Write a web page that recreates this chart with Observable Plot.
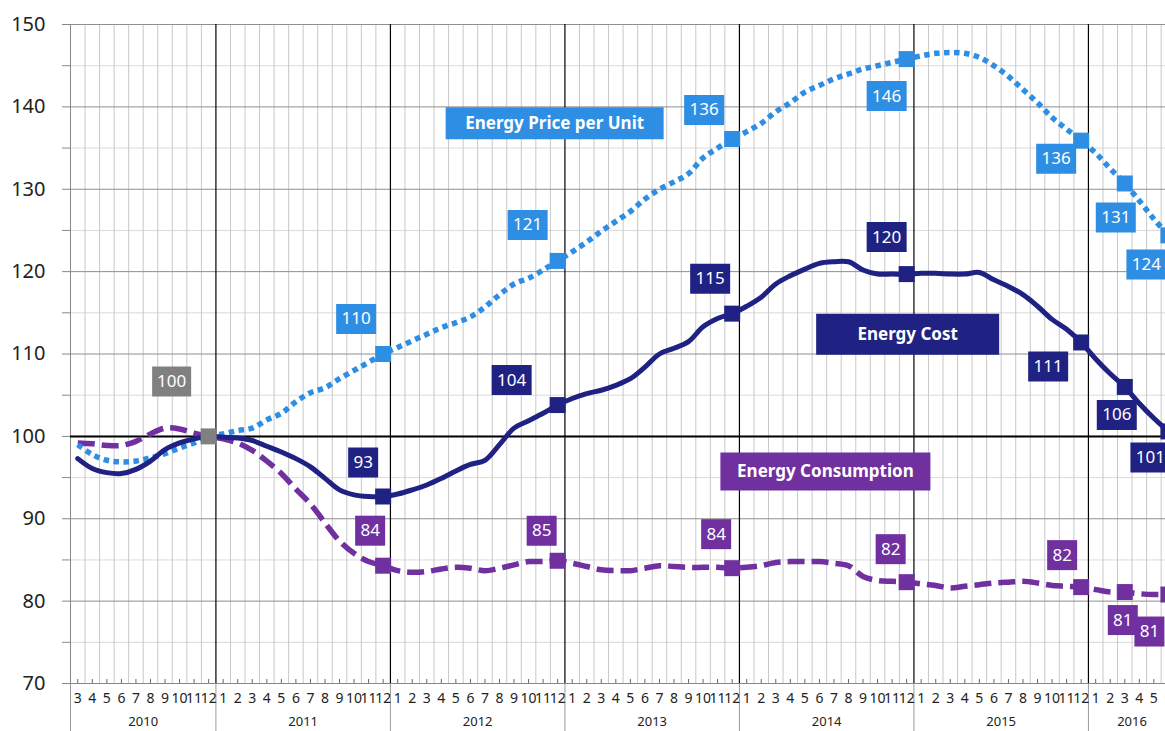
<!DOCTYPE html>
<html><head><meta charset="utf-8">
<script src="https://cdn.jsdelivr.net/npm/d3@7"></script>
<script src="https://cdn.jsdelivr.net/npm/@observablehq/plot@0.6"></script>
<style>body{margin:0;background:#fff;} #chart svg{display:block;}</style>
</head><body><div id="chart"></div>
<script>
// ---------- DATA ----------
const months = d3.utcMonths(new Date(Date.UTC(2010, 2, 1)), new Date(Date.UTC(2016, 6, 1)))
  .map(d => d3.utcFormat("%Y-%m")(d));
const seriesNames = ["Energy Price per Unit", "Energy Cost", "Energy Consumption"];
const price = [
  99.0, 97.8, 97.1, 96.9, 97.0, 97.4, 97.9, 98.6, 99.2, 100.0,
  100.3, 100.7, 101.0, 102.0, 102.8, 104.2, 105.3, 105.9, 107.0, 108.0, 109.0, 110.0,
  110.8, 111.6, 112.4, 113.2, 113.8, 114.5, 115.7, 117.2, 118.5, 119.2, 120.2, 121.3,
  122.4, 123.6, 124.9, 126.1, 127.3, 128.8, 130.0, 130.9, 131.9, 133.8, 135.0, 136.1,
  137.0, 138.0, 139.4, 140.5, 141.8, 142.6, 143.4, 144.0, 144.6, 145.0, 145.4, 145.8,
  146.2, 146.5, 146.6, 146.5, 146.0, 145.0, 143.7, 142.1, 140.5, 138.7, 137.3, 135.9,
  134.4, 132.5, 130.7, 128.6, 126.4, 124.4
];
const cost = [
  97.3, 96.1, 95.6, 95.5, 96.0, 97.0, 98.4, 99.2, 99.7, 100.0,
  99.9, 99.8, 99.5, 98.8, 98.1, 97.3, 96.3, 94.9, 93.5, 92.9, 92.7, 92.7,
  93.0, 93.5, 94.1, 94.9, 95.8, 96.6, 97.1, 99.0, 101.0, 101.9, 102.8, 103.8,
  104.6, 105.2, 105.6, 106.2, 107.0, 108.4, 110.0, 110.7, 111.5, 113.3, 114.3, 114.9,
  115.8, 116.9, 118.5, 119.5, 120.3, 121.0, 121.2, 121.2, 120.2, 119.7, 119.7, 119.7,
  119.8, 119.8, 119.7, 119.7, 119.9, 119.0, 118.2, 117.2, 115.8, 114.2, 113.0, 111.4,
  109.4, 107.6, 106.0, 104.0, 102.2, 100.6
];
const consumption = [
  99.2, 99.1, 98.9, 98.9, 99.4, 100.3, 101.0, 100.9, 100.4, 100.0,
  99.7, 99.2, 98.3, 97.0, 95.5, 93.6, 91.8, 89.5, 87.3, 85.8, 84.8, 84.3,
  83.7, 83.5, 83.6, 83.9, 84.1, 84.0, 83.7, 84.0, 84.4, 84.8, 84.8, 84.9,
  84.6, 84.2, 83.8, 83.7, 83.7, 84.0, 84.3, 84.2, 84.1, 84.1, 84.1, 84.0,
  84.1, 84.3, 84.7, 84.8, 84.8, 84.8, 84.6, 84.3, 83.0, 82.5, 82.4, 82.3,
  82.1, 81.9, 81.6, 81.8, 82.0, 82.2, 82.3, 82.4, 82.2, 81.9, 81.8, 81.7,
  81.4, 81.1, 81.1, 80.9, 80.8, 80.8
];
const years = ["2010", "2011", "2012", "2013", "2014", "2015", "2016"];
const yTicks = [70, 80, 90, 100, 110, 120, 130, 140, 150];
const yMinorTicks = [75, 85, 95, 105, 115, 125, 135, 145];
const baseMonth = "2010-12";
const keyMonths = ["2011-12", "2012-12", "2013-12", "2014-12", "2015-12", "2016-03", "2016-06"];

// ---------- LAYOUT / STYLE ----------
const C = {price: "#2E8EE3", cost: "#1F2283", cons: "#7030A0", base: "#808080"};
const tOf = m => (+m.slice(0, 4) - 2010) * 12 + (+m.slice(5) - 1) + 0.5;
const rows = months.map((m, i) => ({m, t: tOf(m), price: price[i], cost: cost[i], cons: consumption[i]}));
const byMonth = new Map(rows.map(r => [r.m, r]));
const labelOffsets = {
  price: [[-27, -35], [-30, -36], [-28, -29], [-20, 37], [-25, 18], [-9, 34], [-22, 29]],
  cost:  [[-20, -34], [-46, -25], [-22, -35], [-20, -37], [-33, 24], [-8, 28], [-18, 26]],
  cons:  [[-13, -35], [-16, -30], [-16, -34], [-16, -33], [-19, -32], [-2, 28], [-19, 37]]
};
const nameLayout = [
  {key: "price", m: "2012-12", v: 138, dx: -3, w: 218, h: 32},
  {key: "cost", m: "2014-12", v: 112.4, dx: 1, w: 183, h: 41},
  {key: "cons", m: "2014-06", v: 95.75, dx: 6, w: 210, h: 38}
];
const box = (w, h) => ({draw(ctx) { ctx.rect(-w / 2, -h / 2, w, h); }});
const FONT = "'Noto Sans', 'Open Sans', sans-serif";

function valueLabel(d, key, color, dx, dy) {
  const v = d[key];
  const txt = String(Math.round(v));
  const w = txt.length >= 3 ? 40 : 30;
  return [
    Plot.dot([d], {x: "t", y: key, symbol: box(w, 30), fill: color, stroke: null, r: 5, dx, dy}),
    Plot.text([d], {x: "t", y: key, text: () => txt, fill: "#fff", fontSize: 17, dx, dy})
  ];
}

const seriesKeys = ["price", "cost", "cons"];
const keyRows = keyMonths.map(m => byMonth.get(m));
const baseRow = byMonth.get(baseMonth);

const labelMarks = seriesKeys.flatMap(k =>
  keyRows.flatMap((d, i) => valueLabel(d, k, C[k], labelOffsets[k][i][0], labelOffsets[k][i][1])));

const nameMarks = nameLayout.flatMap((n, i) => {
  const d = {t: tOf(n.m), v: n.v, name: seriesNames[i]};
  return [
    Plot.dot([d], {x: "t", y: "v", symbol: box(n.w, n.h), fill: C[n.key], r: 5, dx: n.dx}),
    Plot.text([d], {x: "t", y: "v", text: "name", fill: "#fff", fontSize: 17, fontWeight: "bold", dx: n.dx})
  ];
});

const yearRows = years.map((y, i) => {
  const start = Math.max(2, i * 12), end = Math.min(78, i * 12 + 12);
  return {y, t: (start + end) / 2};
});
const monthBounds = d3.range(3, 78).filter(t => t % 12 !== 0);
const yearBounds = [12, 24, 36, 48, 60, 72];

const plot = Plot.plot({
  width: 1165, height: 731,
  marginLeft: 70, marginRight: 0, marginTop: 24, marginBottom: 48,
  x: {domain: [2, 77.3], axis: null},
  y: {domain: [70, 150], axis: null},
  style: {fontFamily: FONT, background: "white", overflow: "hidden"},
  marks: [
    Plot.ruleY(yMinorTicks, {stroke: "#dadada"}),
    Plot.ruleX(monthBounds, {stroke: "#c8c8c8"}),
    Plot.ruleY(yTicks, {stroke: "#8e8e8e"}),
    Plot.ruleX(yearBounds, {stroke: "#000", strokeWidth: 1.2}),
    Plot.ruleX([2], {stroke: "#888"}),
    Plot.ruleX([2, ...yearBounds], {stroke: "#9a9a9a", insetTop: 659, insetBottom: -48}),
    Plot.ruleX(rows, {x: "t", stroke: "#666", insetTop: 655}),
    Plot.ruleY(yTicks, {stroke: "#888", insetLeft: -8, insetRight: 1095}),
    Plot.ruleY(yMinorTicks, {stroke: "#888", insetLeft: -8, insetRight: 1095}),
    Plot.ruleY([70], {stroke: "#888"}),
    Plot.ruleY([100], {stroke: "#000", strokeWidth: 2}),
    Plot.axisY(yTicks, {tickSize: 0, tickPadding: 25, fontSize: 20, color: "#222", label: null}),
    Plot.text(rows, {x: "t", text: d => String(+d.m.slice(5)), frameAnchor: "bottom", dy: 19, fontSize: 14, fill: "#222"}),
    Plot.text(yearRows, {x: "t", text: "y", frameAnchor: "bottom", dy: 42, fontSize: 13, fill: "#222"}),
    Plot.line(rows, {x: "t", y: "cons", stroke: C.cons, strokeWidth: 5.5, strokeDasharray: "17,7", strokeLinecap: "butt", curve: "catmull-rom"}),
    Plot.line(rows, {x: "t", y: "price", stroke: C.price, strokeWidth: 5.5, strokeDasharray: "5.5,4.5", strokeLinecap: "butt", curve: "catmull-rom"}),
    Plot.line(rows, {x: "t", y: "cost", stroke: C.cost, strokeWidth: 5, curve: "catmull-rom"}),
    ...seriesKeys.map(k => Plot.dot(keyRows, {x: "t", y: k, symbol: box(16, 16), fill: C[k], r: 5})),
    Plot.dot([baseRow], {x: "t", y: "price", symbol: box(16, 16), fill: C.base, r: 5}),
    ...labelMarks,
    Plot.dot([baseRow], {x: "t", y: "price", symbol: box(39, 30), fill: C.base, r: 5, dx: -37, dy: -55}),
    Plot.text([baseRow], {x: "t", y: "price", text: d => String(Math.round(d.price)), fill: "#fff", fontSize: 17, dx: -37, dy: -55}),
    ...nameMarks
  ]
});
document.getElementById("chart").append(plot);
</script>
</body></html>
